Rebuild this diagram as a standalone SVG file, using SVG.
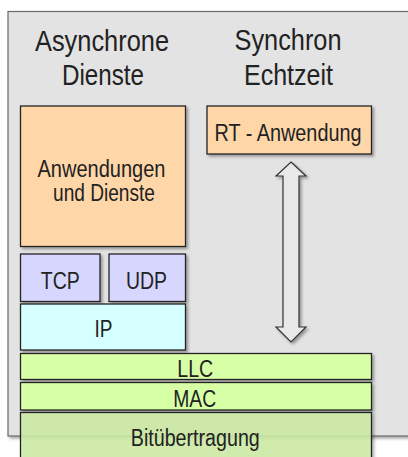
<svg xmlns="http://www.w3.org/2000/svg" width="408" height="457" viewBox="0 0 408 457">
<defs>
<filter id="sh" x="-10%" y="-10%" width="130%" height="130%">
<feDropShadow dx="2" dy="2" stdDeviation="1.5" flood-color="#000" flood-opacity="0.35"/>
</filter>
</defs>
<style>
text{font-family:"Liberation Sans",Arial,sans-serif;fill:#222;text-anchor:middle}
.hd{font-size:29px}
.bx{font-size:23px}
.box{stroke:#222;stroke-width:1.3}
.app{fill:#ffd6a8}
.tp{fill:#d6d6ff}
.ip{fill:#d6ffff}
.ll{fill:#d6ffa6}
.arr{fill:#e8e8e8;stroke:#333;stroke-width:1.2}
</style>
<rect width="408" height="457" fill="#fff"/>
<g id="panel">
<rect x="8" y="11.5" width="412" height="424.5" fill="#e3e3e3" stroke="#6a6a6a" stroke-width="1.2" filter="url(#sh)"/>
</g>
<g id="hdr-async">
<text class="hd" x="102" y="51" textLength="134" lengthAdjust="spacingAndGlyphs">Asynchrone</text>
<text class="hd" x="103" y="85" textLength="82" lengthAdjust="spacingAndGlyphs">Dienste</text>
</g>
<g id="hdr-sync">
<text class="hd" x="288" y="50" textLength="107" lengthAdjust="spacingAndGlyphs">Synchron</text>
<text class="hd" x="288.5" y="85" textLength="89" lengthAdjust="spacingAndGlyphs">Echtzeit</text>
</g>
<g id="anwendungen">
<rect class="box app" x="20.5" y="106" width="165" height="140.5" filter="url(#sh)"/>
<text class="bx" x="101.5" y="177" textLength="128" lengthAdjust="spacingAndGlyphs">Anwendungen</text>
<text class="bx" x="104" y="201" textLength="102" lengthAdjust="spacingAndGlyphs">und Dienste</text>
</g>
<g id="rt">
<rect class="box app" x="207" y="106" width="164.5" height="48" filter="url(#sh)"/>
<text class="bx" x="288" y="141" textLength="147" lengthAdjust="spacingAndGlyphs">RT - Anwendung</text>
</g>
<g id="tcp">
<rect class="box tp" x="20.5" y="254" width="79.5" height="47.5" filter="url(#sh)"/>
<text class="bx" x="60.3" y="288.5" textLength="39" lengthAdjust="spacingAndGlyphs">TCP</text>
</g>
<g id="udp">
<rect class="box tp" x="109" y="254" width="76.5" height="47.5" filter="url(#sh)"/>
<text class="bx" x="146.5" y="288.5" textLength="41" lengthAdjust="spacingAndGlyphs">UDP</text>
</g>
<g id="ip">
<rect class="box ip" x="20.5" y="304" width="165" height="46" filter="url(#sh)"/>
<text class="bx" x="103.5" y="337" textLength="18" lengthAdjust="spacingAndGlyphs">IP</text>
</g>
<g id="llc">
<rect class="box ll" x="20.5" y="353.5" width="351" height="26" filter="url(#sh)"/>
<text class="bx" x="195.3" y="377" textLength="36" lengthAdjust="spacingAndGlyphs">LLC</text>
</g>
<g id="mac">
<rect class="box ll" x="20.5" y="382.5" width="351" height="27.5" filter="url(#sh)"/>
<text class="bx" x="194.7" y="406.5" textLength="43" lengthAdjust="spacingAndGlyphs">MAC</text>
</g>
<g id="bit">
<rect class="box" x="20.5" y="412.5" width="351" height="50" fill="#cfefa6" fill-opacity="0.85" filter="url(#sh)"/>
<text class="bx" x="195.3" y="445.5" textLength="129" lengthAdjust="spacingAndGlyphs">Bitübertragung</text>
</g>
<g id="connectors">
<polygon class="arr" points="291,162 306,176 299,176 299,327 306,327 291,342 276,327 283,327 283,176 276,176" filter="url(#sh)"/>
</g>
</svg>
